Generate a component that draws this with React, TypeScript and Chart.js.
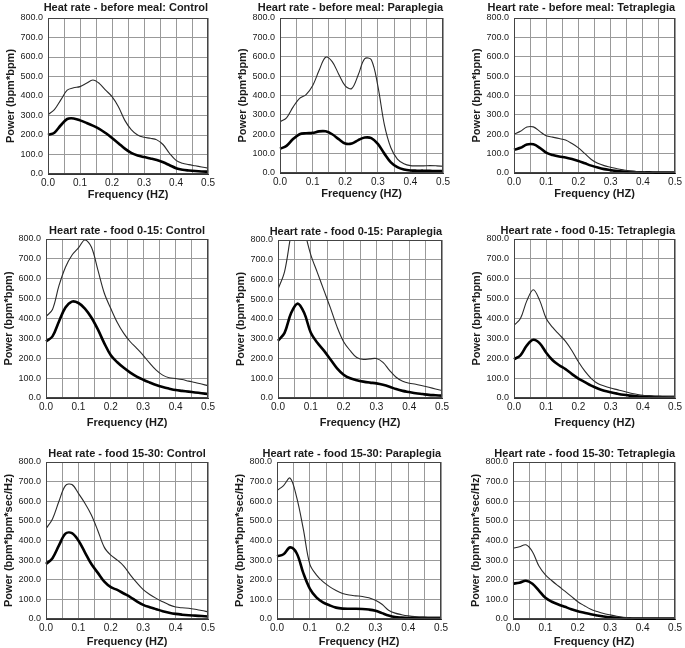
import React, { useEffect, useRef } from "react";
import { Chart, registerables } from "chart.js";

Chart.register(...registerables);

// ---------- data ----------
const FREQ = [0, 0.02, 0.04, 0.06, 0.08, 0.1, 0.12, 0.14, 0.16, 0.18, 0.2, 0.22, 0.24, 0.26, 0.28, 0.3, 0.32, 0.34, 0.36, 0.38, 0.4, 0.42, 0.44, 0.46, 0.48, 0.5];

const TITLES = [
  "Heat rate - before meal: Control",
  "Heart rate - before meal: Paraplegia",
  "Heart rate - before meal: Tetraplegia",
  "Heart rate - food 0-15: Control",
  "Heart rate - food 0-15: Paraplegia",
  "Heart rate - food 0-15: Tetraplegia",
  "Heat rate - food 15-30: Control",
  "Heart rate - food 15-30: Paraplegia",
  "Heart rate - food 15-30: Tetraplegia",
];

const Y_TITLES = [
  "Power (bpm*bpm)",
  "Power (bpm*bpm)",
  "Power (bpm*bpm*sec/Hz)",
];
const X_TITLE = "Frequency (HZ)";

const Y_TICKS = [0, 100, 200, 300, 400, 500, 600, 700, 800];
const X_LABELED = [0, 0.1, 0.2, 0.3, 0.4, 0.5];

// before meal
const CONTROL_BEFORE_THIN = [305, 330, 380, 430, 442, 448, 465, 482, 465, 430, 397, 345, 275, 228, 200, 188, 183, 175, 150, 105, 70, 55, 48, 42, 36, 30];
const CONTROL_BEFORE_THICK = [200, 212, 250, 282, 285, 275, 262, 248, 232, 210, 185, 158, 130, 108, 95, 87, 80, 72, 60, 45, 30, 22, 18, 15, 13, 12];
const PARA_BEFORE_THIN = [265, 285, 340, 385, 405, 450, 530, 597, 575, 510, 450, 436, 507, 590, 584, 450, 250, 130, 72, 48, 38, 37, 37, 38, 37, 35];
const PARA_BEFORE_THICK = [125, 140, 175, 200, 205, 207, 215, 215, 200, 175, 152, 152, 170, 183, 180, 150, 100, 55, 30, 18, 13, 12, 12, 11, 10, 10];
const TETRA_BEFORE_THIN = [200, 215, 237, 238, 215, 192, 185, 178, 170, 152, 130, 100, 70, 50, 38, 30, 22, 16, 11, 8, 6, 5, 4, 4, 3, 3];
const TETRA_BEFORE_THICK = [120, 130, 147, 148, 130, 105, 93, 85, 80, 72, 62, 50, 38, 28, 20, 15, 10, 7, 5, 4, 3, 3, 2, 2, 2, 2];

// food 0-15
const CONTROL_F15_THIN = [410, 445, 565, 658, 718, 755, 795, 760, 645, 527, 450, 380, 325, 283, 250, 215, 175, 140, 115, 102, 98, 93, 85, 78, 70, 62];
const CONTROL_F15_THICK = [285, 310, 385, 455, 485, 478, 450, 405, 345, 275, 215, 180, 152, 128, 108, 92, 78, 65, 55, 47, 40, 36, 32, 28, 24, 20];
const PARA_F15_THIN = [550, 640, 830, 960, 850, 725, 635, 545, 455, 360, 285, 240, 205, 195, 198, 200, 180, 140, 105, 85, 75, 70, 62, 54, 46, 38];
const PARA_F15_THICK = [290, 330, 430, 478, 430, 330, 280, 240, 195, 150, 118, 100, 90, 83, 78, 74, 67, 57, 45, 36, 30, 24, 20, 16, 14, 12];
const TETRA_F15_THIN = [365, 400, 490, 545, 490, 400, 355, 320, 285, 238, 182, 135, 98, 73, 60, 50, 42, 34, 25, 19, 14, 12, 10, 9, 8, 8];
const TETRA_F15_THICK = [195, 215, 265, 293, 275, 228, 190, 165, 145, 120, 98, 80, 62, 48, 37, 29, 22, 16, 12, 9, 7, 6, 5, 5, 5, 5];

// food 15-30
const CONTROL_F30_THIN = [460, 510, 600, 680, 685, 640, 590, 530, 450, 365, 325, 300, 270, 225, 185, 150, 125, 105, 88, 72, 61, 57, 55, 50, 43, 37];
const CONTROL_F30_THICK = [280, 310, 375, 435, 438, 400, 340, 280, 235, 190, 162, 148, 130, 112, 90, 72, 60, 50, 40, 32, 26, 22, 19, 17, 15, 13];
const PARA_F30_THIN = [655, 680, 718, 620, 460, 280, 225, 190, 165, 145, 130, 122, 118, 115, 108, 95, 75, 45, 30, 22, 16, 12, 11, 10, 10, 10];
const PARA_F30_THICK = [320, 330, 365, 335, 235, 155, 110, 85, 70, 58, 53, 52, 52, 51, 48, 42, 30, 18, 10, 7, 5, 4, 4, 4, 4, 4];
const TETRA_F30_THIN = [360, 368, 378, 343, 270, 225, 195, 168, 142, 115, 88, 68, 50, 38, 28, 21, 14, 9, 6, 5, 4, 3, 3, 2, 2, 2];
const TETRA_F30_THICK = [180, 185, 195, 180, 145, 108, 88, 74, 62, 50, 40, 32, 24, 18, 13, 9, 6, 4, 3, 2, 2, 2, 2, 2, 2, 2];

const SERIES = [
  [CONTROL_BEFORE_THIN, CONTROL_BEFORE_THICK],
  [PARA_BEFORE_THIN, PARA_BEFORE_THICK],
  [TETRA_BEFORE_THIN, TETRA_BEFORE_THICK],
  [CONTROL_F15_THIN, CONTROL_F15_THICK],
  [PARA_F15_THIN, PARA_F15_THICK],
  [TETRA_F15_THIN, TETRA_F15_THICK],
  [CONTROL_F30_THIN, CONTROL_F30_THICK],
  [PARA_F30_THIN, PARA_F30_THICK],
  [TETRA_F30_THIN, TETRA_F30_THICK],
];

// ---------- layout (plot-area rectangles in page pixels: left, top, right, bottom) ----------
const PLOT_RECTS = [
  [48, 18, 211, 174],
  [280, 18, 446, 173],
  [514, 18, 678, 173],
  [46, 239, 211, 398],
  [278, 240, 445, 398],
  [514, 239, 678, 398],
  [46, 462, 211, 619],
  [277, 462, 444, 619],
  [513, 462, 678, 619],
];
const ROW_X_SPACE = [27, 31, 29];
const ROW_TITLE_GAP = [7, 5, 5];
const Y_SPACE = 46;
const TOP_SPACE = 16;

const FONT = "'Liberation Sans', Arial, Helvetica, sans-serif";
const TEXT = "#1a1a1a";

const panelDecor = {
  id: "panelDecor",
  afterDatasetsDraw(chart: any, _args: any, opts: any) {
    const { ctx, chartArea } = chart;
    const { left, top, right, bottom } = chartArea;
    ctx.save();
    ctx.strokeStyle = "#444";
    ctx.lineWidth = 1;
    ctx.strokeRect(Math.round(left) + 0.5, Math.round(top) + 0.5, Math.round(right - left) - 1, Math.round(bottom - top) - 1);
    ctx.font = `bold 11px ${FONT}`;
    ctx.fillStyle = TEXT;
    ctx.textAlign = "center";
    ctx.textBaseline = "alphabetic";
    const w = ctx.measureText(opts.text).width;
    let cx = (left + right) / 2;
    if (cx + w / 2 > right) cx = right - w / 2;
    ctx.fillText(opts.text, cx, top - opts.gap);
    ctx.restore();
  },
};

function Panel({ idx }: { idx: number }) {
  const ref = useRef<HTMLCanvasElement>(null);
  const [L, T, R, B] = PLOT_RECTS[idx];
  const row = Math.floor(idx / 3);
  const RP = Math.min(7, 685 - R);
  const XH = ROW_X_SPACE[row];
  const w = Y_SPACE + (R - L) + RP;
  const h = TOP_SPACE + (B - T) + XH;

  useEffect(() => {
    const [thin, thick] = SERIES[idx];
    const chart = new Chart(ref.current as HTMLCanvasElement, {
      type: "line",
      data: {
        datasets: [
          {
            data: FREQ.map((f, i) => ({ x: f, y: thin[i] })),
            borderColor: "#2a2a2a",
            borderWidth: 1.1,
            pointRadius: 0,
            tension: 0.35,
            fill: false,
            clip: 0,
          },
          {
            data: FREQ.map((f, i) => ({ x: f, y: thick[i] })),
            borderColor: "#000",
            borderWidth: 2.6,
            pointRadius: 0,
            tension: 0.35,
            fill: false,
            clip: 1,
          },
        ],
      },
      options: {
        responsive: false,
        animation: false,
        devicePixelRatio: 1,
        events: [],
        layout: { padding: { top: TOP_SPACE, right: RP, left: 0, bottom: 0 } },
        plugins: {
          legend: { display: false },
          tooltip: { enabled: false },
          title: { display: false },
          panelDecor: { text: TITLES[idx], gap: ROW_TITLE_GAP[row] },
        } as any,
        scales: {
          x: {
            type: "linear",
            min: 0,
            max: 0.5,
            afterFit: (s: any) => {
              s.height = XH;
            },
            ticks: {
              stepSize: 0.05,
              autoSkip: false,
              maxRotation: 0,
              padding: 3,
              color: TEXT,
              font: { family: FONT, size: 10 },
              callback: (v: any) => {
                const n = Number(v);
                return X_LABELED.some((t) => Math.abs(t - n) < 1e-6) ? n.toFixed(1) : "";
              },
            },
            grid: { color: "#999", lineWidth: 1, drawTicks: false },
            border: { color: "#333" },
            title: {
              display: true,
              text: X_TITLE,
              color: TEXT,
              font: { family: FONT, size: 11, weight: "bold", lineHeight: "13px" },
              padding: { top: 0, bottom: 0 },
            },
          },
          y: {
            type: "linear",
            min: 0,
            max: 800,
            afterFit: (s: any) => {
              s.width = Y_SPACE;
            },
            afterBuildTicks: (s: any) => {
              s.ticks = Y_TICKS.map((v) => ({ value: v }));
            },
            ticks: {
              padding: 5,
              color: TEXT,
              font: { family: FONT, size: 9 },
              callback: (v: any) => Number(v).toFixed(1),
            },
            grid: { color: "#999", lineWidth: 1, drawTicks: false },
            border: { color: "#333" },
            title: {
              display: true,
              text: Y_TITLES[row],
              color: TEXT,
              font: { family: FONT, size: 11, weight: "bold", lineHeight: "13px" },
              padding: { top: 2, bottom: 0 },
            },
          },
        },
      } as any,
      plugins: [panelDecor],
    });
    return () => chart.destroy();
  }, []);

  return (
    <canvas
      ref={ref}
      width={w}
      height={h}
      style={{ position: "absolute", left: L - Y_SPACE, top: T - TOP_SPACE, width: w, height: h }}
    />
  );
}

export default function App() {
  return (
    <div
      style={{
        position: "fixed",
        left: 0,
        top: 0,
        width: 685,
        height: 648,
        overflow: "hidden",
        background: "#fff",
      }}
    >
      {PLOT_RECTS.map((_, i) => (
        <Panel key={i} idx={i} />
      ))}
    </div>
  );
}
